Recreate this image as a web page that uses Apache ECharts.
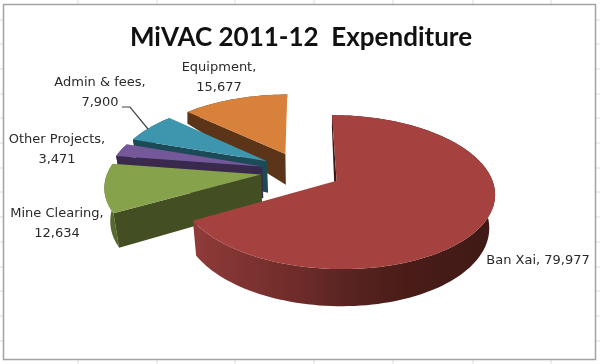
<!DOCTYPE html>
<html><head><meta charset="utf-8">
<style>html,body{margin:0;padding:0;background:#fff}#c{width:600px;height:364px}</style>
<script src="https://cdn.jsdelivr.net/npm/echarts@6/dist/echarts.min.js"></script>
</head><body><div id="c"></div>
<script>
// Data, clockwise from twelve o'clock
const categories = ['Ban Xai', 'Mine Clearing', 'Other Projects', 'Admin & fees', 'Equipment'];
const values = [79977, 12634, 3471, 7900, 15677];
const titleText = 'MiVAC 2011-12  Expenditure';

// Styles
const topColors = ['#a54240', '#86a24b', '#75589a', '#3d96ae', '#d7813a'];
const radialWallColors = ['#3a1614', '#434f22', '#39294d', '#1c4a57', '#5c3418'];
const rimStops = [
  [[0, '#8f3b39'], [0.35, '#6e2b29'], [0.5, '#5a2422'], [0.7, '#4a1c18'], [1, '#3f1a16']],
  [[0, '#566a2e'], [1, '#566a2e']],
  [[0, '#39294d'], [1, '#39294d']],
  [[0, '#1c4a57'], [1, '#1c4a57']],
  [[0, '#5c3418'], [1, '#5c3418']]
];

// Layout of the projected pie
const cx = 301, cy = 171, rx = 153, ry = 72.5, persp = 0.1435, explode = 0.264, shrink = 0.03;
const labelCenters = [[538, 261], [57, 224], [57, 150], [100, 93], [219, 78]];
const leader = [[122, 107], [130, 107], [148, 129]];
const gridXs = [78, 157, 235, 314, 393, 473, 551];
const gridYs = [20, 44, 69, 94, 118, 143, 168, 192, 217, 242, 267, 291, 316, 341];

const total = values.reduce((a, b) => a + b, 0);
const starts = [];
values.reduce((acc, v, i) => { starts[i] = acc; return acc + v / total * Math.PI * 2; }, 0);

function project(X, Z) {
  const s = 1 / (1 - persp * Z);
  return [cx + rx * X * s, cy + ry * Z * s];
}
function depthAt(Z) { return Z < -0.2 ? 32 + (Z + 0.2) * 28 : 32 + Z * 4.5; }
function lift(X, Z) {
  const p = project(X, Z);
  const f = Math.max(0, Math.min(1, (Z + 0.9) / 0.5));
  return [p[0] + (cx - p[0]) * shrink * f, p[1] + depthAt(Z)];
}
function fmt(v) { return String(v).replace(/\B(?=(\d{3})+$)/g, ','); }

function renderSlice(params, api) {
  const i = api.value(0);
  const a0 = starts[i], sweep = api.value(1) / total * Math.PI * 2, mid = a0 + sweep / 2;
  const ax = explode * Math.sin(mid), az = -explode * Math.cos(mid);
  const n = Math.max(8, Math.round(sweep * 30));
  const rim = [];
  for (let k = 0; k <= n; k++) {
    const a = a0 + sweep * k / n;
    rim.push([ax + Math.sin(a), az - Math.cos(a)]);
  }
  const kids = [];
  // outer wall
  const wall = rim.map(r => project(r[0], r[1])).concat(rim.slice().reverse().map(r => lift(r[0], r[1])));
  kids.push({ type: 'polygon', shape: { points: wall },
    style: { fill: { type: 'linear', x: 0, y: 0, x2: 1, y2: 0,
      colorStops: rimStops[i].map(s => ({ offset: s[0], color: s[1] })) } } });
  // radial wall on the starting edge
  const e = rim[0];
  kids.push({ type: 'polygon',
    shape: { points: [project(ax, az), project(e[0], e[1]), lift(e[0], e[1]), lift(ax, az)] },
    style: { fill: radialWallColors[i] } });
  // top face
  const pts = [project(ax, az)].concat(rim.map(r => project(r[0], r[1])));
  kids.push({ type: 'polygon', shape: { points: pts }, style: { fill: topColors[i] } });
  return { type: 'group', children: kids };
}

function renderLabel(params, api) {
  const i = api.value(0);
  const text = i === 0 ? categories[i] + ', ' + fmt(api.value(1)) : categories[i] + ',\n' + fmt(api.value(1));
  const c = labelCenters[i];
  return { type: 'text', x: c[0], y: c[1],
    style: { text, fill: '#2a2a2a', font: '13px "DejaVu Sans"', align: 'center', verticalAlign: 'middle', lineHeight: 20 } };
}

// far slices are painted first
const order = categories.map((_, i) => i).reverse();
const bg = [
  { type: 'rect', shape: { x: 3.5, y: 4.5, width: 592, height: 355 }, style: { fill: '#fff', stroke: '#a2a2a2', lineWidth: 1.5 }, z: 1 }
];
gridXs.forEach(x => {
  bg.push({ type: 'line', shape: { x1: x, y1: 0, x2: x, y2: 4 }, style: { stroke: '#dcdcdc', lineWidth: 1 } });
  bg.push({ type: 'line', shape: { x1: x, y1: 360, x2: x, y2: 364 }, style: { stroke: '#dcdcdc', lineWidth: 1 } });
});
gridYs.forEach(y => {
  bg.push({ type: 'line', shape: { x1: 0, y1: y, x2: 3, y2: y }, style: { stroke: '#dcdcdc', lineWidth: 1 } });
  bg.push({ type: 'line', shape: { x1: 596, y1: y, x2: 600, y2: y }, style: { stroke: '#dcdcdc', lineWidth: 1 } });
});
bg.push({ type: 'polyline', shape: { points: leader }, style: { fill: 'none', stroke: '#444', lineWidth: 1.2 }, z: 5 });

const chart = echarts.init(document.getElementById('c'), null, { renderer: 'canvas' });
chart.setOption({
  animation: false,
  backgroundColor: '#fff',
  title: { text: titleText, left: 296, top: 20, textAlign: 'center',
    textStyle: { fontFamily: 'Lato', fontWeight: 'bold', fontSize: 26, color: '#111' } },
  graphic: { elements: bg },
  series: [
    { type: 'custom', coordinateSystem: 'none', renderItem: renderSlice, silent: true, z: 3,
      data: order.map(i => [i, values[i]]) },
    { type: 'custom', coordinateSystem: 'none', renderItem: renderLabel, silent: true, z: 4,
      data: order.map(i => [i, values[i]]) }
  ]
});
</script></body></html>
